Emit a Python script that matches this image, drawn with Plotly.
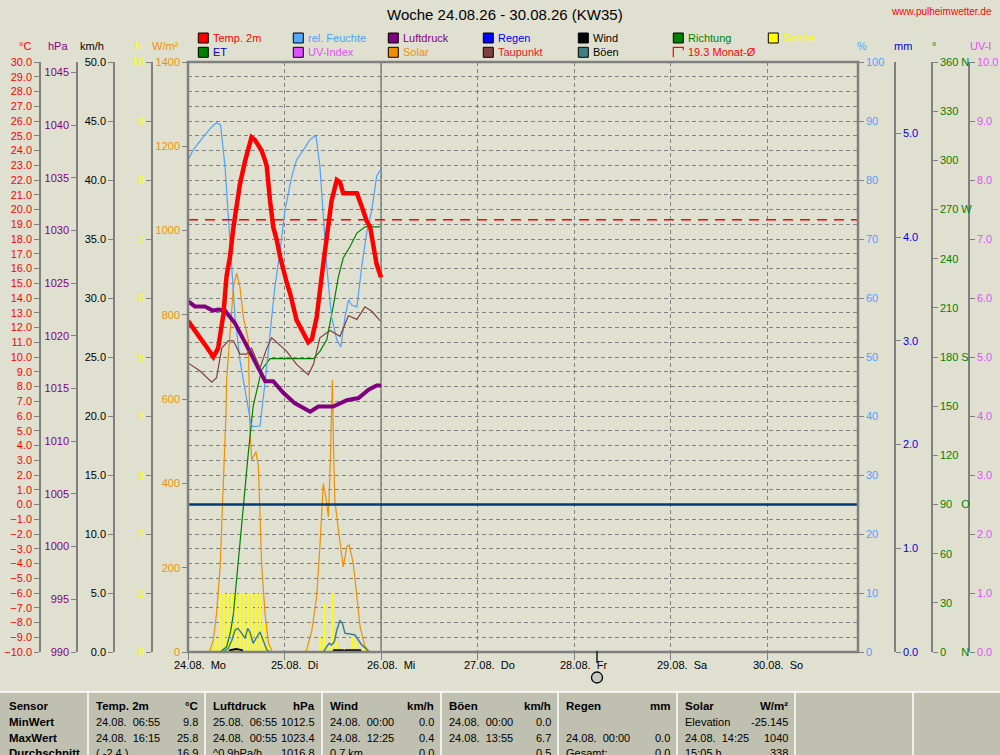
import plotly.graph_objects as go

W, H = 1000, 755
BG = "#e0e0d0"
GRAY = "#808080"
FONT = "Liberation Sans, Arial, sans-serif"

# time axis: hours since 24.08. 00:00
DAYS = ["24.08.", "25.08.", "26.08.", "27.08.", "28.08.", "29.08.", "30.08."]
WEEKDAYS = ["Mo", "Di", "Mi", "Do", "Fr", "Sa", "So"]
X_END = 166.6
DATA_END = 48.0
MONTH_AVG = 19.3
MOON_T = 101.7

temp_t = [0.0, 1.3, 3.0, 4.6, 6.3, 7.5, 8.8, 9.6, 10.45, 11.3, 12.1, 12.9, 14.2, 15.8, 16.7,
          17.9, 18.3, 19.2, 19.6, 20.4, 21.2, 22.1, 22.9, 24.6, 25.4, 27.0, 27.9, 29.1, 29.9,
          30.8, 32.0, 33.3, 34.5, 35.7, 37.0, 37.8, 38.6, 42.0, 43.2, 44.4, 45.3, 46.1, 46.9, 48.0]
temp_v = [12.45, 11.9, 11.3, 10.7, 10.0, 10.6, 12.9, 15.5, 16.8, 18.8, 20.4, 21.7, 23.3, 24.9, 24.7,
          24.1, 24.0, 23.3, 22.9, 20.6, 18.8, 17.9, 16.8, 15.0, 14.3, 12.5, 12.0, 11.3, 11.0,
          11.2, 12.7, 15.6, 17.9, 20.6, 22.0, 21.85, 21.1, 21.1, 20.2, 19.25, 18.8, 17.4, 16.3, 15.4]

dew_t = [0.0, 3.0, 5.9, 7.1, 8.4, 10.0, 11.3, 12.9, 14.6, 15.8, 17.9, 19.6, 20.8, 22.5, 24.5,
         27.0, 29.9, 31.2, 32.8, 35.3, 37.8, 39.9, 42.0, 44.0, 45.7, 47.8]
dew_v = [9.6, 9.05, 8.3, 8.6, 10.6, 11.1, 11.1, 10.2, 10.2, 10.6, 9.25, 10.6, 11.3, 10.9, 10.4,
         9.5, 8.8, 9.5, 11.3, 11.8, 11.4, 12.8, 12.55, 13.4, 13.1, 12.45]

hum_t = [0.0, 1.3, 3.8, 5.9, 7.1, 8.1, 9.2, 10.0, 10.9, 11.7, 12.9, 14.6, 15.6, 16.1, 17.9, 19.15,
         20.4, 21.6, 22.9, 24.1, 25.8, 27.0, 28.7, 30.3, 31.8, 32.8, 33.65, 34.5, 35.7, 37.0,
         38.0, 39.05, 39.9, 40.7, 42.0, 43.2, 44.4, 45.7, 46.9, 47.8]
hum_v = [83.4, 85.1, 87.3, 89.0, 89.7, 89.3, 82.3, 73.8, 65.3, 56.8, 49.5, 42.7, 38.8, 38.2, 38.3, 45.6,
         54.0, 61.9, 68.0, 74.9, 80.6, 83.4, 85.1, 86.8, 87.6, 82.3, 73.8, 65.3, 56.8, 52.9,
         51.7, 56.8, 59.7, 58.8, 58.5, 65.3, 71.0, 74.9, 80.6, 81.7]

pres_t = [0.0, 1.7, 4.2, 6.2, 7.5, 9.2, 11.7, 14.2, 16.7, 19.2, 21.2, 23.7, 26.6, 30.4, 32.4,
          36.1, 39.5, 42.4, 44.9, 46.9, 48.0]
pres_v = [1023.3, 1022.8, 1022.8, 1022.4, 1022.5, 1022.4, 1021.2, 1019.3, 1017.4, 1015.7, 1015.7,
          1014.6, 1013.6, 1012.8, 1013.3, 1013.3, 1013.9, 1014.1, 1014.9, 1015.3, 1015.3]

et_t = [0.0, 8.0, 9.6, 10.6, 11.3, 12.5, 13.75, 15.0, 16.2, 17.9, 18.3, 20.4, 31.2, 32.8, 34.5,
        36.1, 37.4, 38.6, 40.3, 42.0, 44.0, 47.8]
et_v = [0.0, 0.0, 0.05, 0.2, 0.37, 0.89, 1.40, 1.92, 2.37, 2.63, 2.72, 2.83, 2.83, 2.90, 3.01,
        3.33, 3.62, 3.80, 3.91, 4.04, 4.10, 4.10]

sol_t = [0.0, 5.2, 5.5, 6.3, 7.1, 8.0, 8.5, 9.0, 9.45, 9.6, 10.45, 11.3, 12.1, 12.9, 13.75, 14.6,
         15.0, 15.4, 15.85, 16.9, 17.5, 17.9, 18.3, 19.15, 20.0, 20.8, 21.0, 29.0, 29.5, 30.8,
         32.0, 32.8, 33.65, 34.25, 34.9, 35.3, 35.6, 35.9, 36.2, 36.5, 37.4, 38.6, 39.5, 40.1,
         41.1, 42.0, 42.8, 44.0, 44.8, 45.2, 48.0]
sol_v = [0, 0, 5, 28, 92, 202, 329, 448, 566, 645, 756, 867, 899, 867, 796, 756,
         740, 527, 456, 475, 440, 329, 210, 92, 21, 5, 0, 0, 5, 52,
         131, 250, 400, 368, 321, 420, 560, 645, 480, 360, 290, 202, 250, 254,
         210, 131, 60, 13, 5, 0, 0]

gust_t = [0.0, 8.7, 10.0, 10.9, 11.7, 12.4, 13.4, 14.2, 14.85, 15.4, 16.2, 17.1, 17.9, 18.7, 19.6,
          20.4, 33.65, 34.5, 35.1, 35.7, 36.4, 37.0, 37.8, 38.4, 39.05, 40.3, 41.5, 42.4, 43.2,
          44.2, 45.0, 48.0]
gust_v = [0, 0, 0.3, 1.0, 1.86, 2.0, 1.58, 1.16, 2.0, 1.7, 0.74, 1.3, 1.7, 1.0, 0.17,
          0, 0, 0.45, 0.74, 0.6, 0.87, 1.86, 2.65, 2.43, 1.58, 1.52, 1.44, 1.0, 0.6,
          0.3, 0, 0]

wind_t = [0.0, 10.2, 10.5, 11.5, 12.0, 12.8, 13.4, 13.7, 36.0, 36.3, 38.5, 38.8, 39.2, 42.8, 43.1, 48.0]
wind_v = [0, 0, 0.15, 0.2, 0.25, 0.2, 0.15, 0, 0, 0.15, 0.15, 0.05, 0.15, 0.15, 0, 0]

uv_t = [0.0, 48.0]
uv_v = [0, 0]

sun_t = [5.9, 6.9, 7.9, 8.9, 9.9, 10.9, 11.9, 12.9, 13.9, 14.9, 15.9, 16.9, 17.9, 18.9, 19.9,
         29.6, 32.8, 33.8, 34.8, 35.8, 36.8, 37.8, 40.8, 41.8, 43.8]
sun_v = [0.12, 0.24, 1, 1, 1, 1, 1, 1, 1, 1, 1, 1, 1, 0.49, 0.17,
         0.09, 0.26, 0.83, 0.09, 1.0, 0.17, 0.07, 0.26, 0.19, 0.1]

# statistics table
TABLE_HEAD = ["Sensor", "Temp. 2m", "Luftdruck", "Wind", "Böen", "Regen", "Solar"]
TABLE_UNIT = ["", "°C", "hPa", "km/h", "km/h", "mm", "W/m²"]
ROW_NAMES = ["MinWert", "MaxWert", "Durchschnitt"]
MIN_WHEN = ["24.08.  06:55", "25.08.  06:55", "24.08.  00:00", "24.08.  00:00", "", "Elevation"]
MIN_VAL = ["9.8", "1012.5", "0.0", "0.0", "", "-25.145"]
MAX_WHEN = ["24.08.  16:15", "24.08.  00:55", "24.08.  12:25", "24.08.  13:55", "24.08.  00:00", "24.08.  14:25"]
MAX_VAL = ["25.8", "1023.4", "0.4", "6.7", "0.0", "1040"]
AVG_WHEN = ["( -2.4 )", "^0.9hPa/h", "0.7 km", "", "Gesamt:", "15:05 h"]
AVG_VAL = ["16.9", "1016.8", "0.0", "0.5", "0.0", "338"]

LEGEND = [
    ("Temp. 2m", "#ff0000", "#ff0000"), ("rel. Feuchte", "#50a8ff", "#50a0ff"),
    ("Luftdruck", "#800080", "#800080"), ("Regen", "#0000ff", "#0000ff"),
    ("Wind", "#000000", "#000000"), ("Richtung", "#008000", "#008000"),
    ("Sonne", "#ffff00", "#ffff00"),
    ("ET", "#008000", "#0000c0"), ("UV-Index", "#e050ff", "#e050ff"),
    ("Solar", "#f09000", "#f09000"), ("Taupunkt", "#804040", "#e02020"),
    ("Böen", "#408080", "#000000"),
]

PLOT_L, PLOT_R, PLOT_T, PLOT_B = 188, 858, 62, 652


def px(x):
    return x / W


def py(y):
    return 1 - y / H


def yax(color, rng, dtick, x_px, side="left", fmt=None, **kw):
    d = dict(range=rng, dtick=dtick, tick0=rng[0], anchor="free", position=px(x_px), side=side,
             showline=True, linecolor=GRAY, linewidth=1.5, ticks="outside", ticklen=5,
             tickcolor=GRAY, tickfont=dict(color=color, size=11), showgrid=False,
             zeroline=False, fixedrange=True)
    if fmt:
        d["tickformat"] = fmt
    d.update(kw)
    return d


def text(x, y, s, color="black", size=11, anchor="left", bold=False):
    fig.add_annotation(x=px(x), y=py(y), xref="paper", yref="paper", showarrow=False,
                       text="<b>%s</b>" % s if bold else s, xanchor=anchor, yanchor="middle",
                       font=dict(color=color, size=size))


fig = go.Figure()

fig.add_trace(go.Bar(x=sun_t, y=sun_v, width=0.3, marker=dict(color="#ffff00", line_width=0),
                     yaxis="y"))
fig.add_trace(go.Scatter(x=sol_t, y=sol_v, mode="lines", line=dict(color="#f09000", width=1.2),
                         yaxis="y2"))
fig.add_trace(go.Scatter(x=gust_t, y=gust_v, mode="lines", line=dict(color="#408080", width=1.5),
                         yaxis="y3"))
fig.add_trace(go.Scatter(x=wind_t, y=wind_v, mode="lines", line=dict(color="#000000", width=2),
                         yaxis="y3"))
fig.add_trace(go.Scatter(x=et_t, y=et_v, mode="lines", line=dict(color="#008000", width=1.2),
                         yaxis="y4"))
fig.add_trace(go.Scatter(x=hum_t, y=hum_v, mode="lines", line=dict(color="#50a0ff", width=1.2),
                         yaxis="y5"))
# wind direction: calm all week, no values
fig.add_trace(go.Scatter(x=[None], y=[None], mode="lines", line=dict(color="#008000", width=1),
                         yaxis="y6"))
fig.add_trace(go.Scatter(x=uv_t, y=uv_v, mode="lines", line=dict(color="#e050ff", width=1),
                         yaxis="y7"))
fig.add_trace(go.Scatter(x=pres_t, y=pres_v, mode="lines", line=dict(color="#800080", width=4),
                         yaxis="y8"))
fig.add_trace(go.Scatter(x=dew_t, y=dew_v, mode="lines", line=dict(color="#804040", width=1.2),
                         yaxis="y9"))
fig.add_trace(go.Scatter(x=temp_t, y=temp_v, mode="lines", line=dict(color="#ff0000", width=4.5),
                         yaxis="y9"))

deg_vals = list(range(0, 361, 30))
deg_text = [str(v) for v in deg_vals]
deg_text[0] = "0\u00a0\u00a0\u00a0\u00a0\u00a0N"
deg_text[3] = "90\u00a0\u00a0\u00a0O"
deg_text[6] = "180 S"
deg_text[9] = "270 W"
deg_text[12] = "360 N"

fig.update_layout(
    width=W, height=H, margin=dict(l=0, r=0, t=0, b=0, autoexpand=False),
    paper_bgcolor=BG, plot_bgcolor=BG, showlegend=False, bargap=0,
    font=dict(family=FONT, size=11, color="black"),
    xaxis=dict(domain=[px(PLOT_L), px(PLOT_R)], range=[0, X_END], tickvals=[24 * i for i in range(7)],
               ticks="outside", ticklen=7, tickcolor=GRAY, showticklabels=False, showgrid=True,
               gridcolor=GRAY, griddash="4px,3px", gridwidth=1, zeroline=False, showline=False,
               fixedrange=True),
    yaxis=yax("#ffff00", [0, 10], 1, 152, domain=[py(PLOT_B), py(PLOT_T)]),
    yaxis2=yax("#f09000", [0, 1400], 200, PLOT_L, overlaying="y"),
    yaxis3=yax("#000000", [0, 50], 5, 114, fmt=".1f", overlaying="y"),
    yaxis4=yax("#0000e0", [0, 5.69], 1, 895, side="right", fmt=".1f", overlaying="y"),
    yaxis5=yax("#50a0ff", [0, 100], 10, PLOT_R, side="right", overlaying="y"),
    yaxis6=yax("#008000", [0, 360], 30, 932, side="right", overlaying="y",
               tickmode="array", tickvals=deg_vals, ticktext=deg_text),
    yaxis7=yax("#e050ff", [0, 10], 1, 969, side="right", fmt=".1f", overlaying="y"),
    yaxis8=yax("#800080", [990, 1046], 5, 77, overlaying="y"),
    yaxis9=yax("#ff0000", [-10, 30], 1, 40, fmt=".1f", overlaying="y", showgrid=True,
               gridcolor=GRAY, griddash="4px,3px", gridwidth=1),
)

# data end marker, 0 degC line, monthly mean, plot frame
fig.add_shape(type="line", xref="x", yref="y domain", x0=DATA_END, x1=DATA_END, y0=0, y1=1,
              line=dict(color=GRAY, width=1.5), layer="below")
fig.add_shape(type="line", xref="x domain", yref="y9", x0=0, x1=1, y0=0, y1=0,
              line=dict(color="#003c78", width=2.5), layer="above")
fig.add_shape(type="line", xref="x domain", yref="y9", x0=0, x1=1, y0=MONTH_AVG, y1=MONTH_AVG,
              line=dict(color="#ff0000", width=1.6, dash="10px,7px"), layer="above")
fig.add_shape(type="rect", xref="x domain", yref="y domain", x0=0, x1=1, y0=0, y1=1,
              line=dict(color=GRAY, width=2.5), layer="above")

# moon phase marker below the time axis
fig.add_shape(type="line", xref="x", yref="paper", x0=MOON_T, x1=MOON_T, y0=py(651), y1=py(663),
              line=dict(color="black", width=1.3))
fig.add_shape(type="circle", xref="x", yref="paper", xsizemode="pixel", xanchor=MOON_T,
              x0=-5.5, x1=5.5, y0=py(683), y1=py(672), fillcolor="#c8c8c8",
              line=dict(color="black", width=1.3))

# day labels
for i, (d, wd) in enumerate(zip(DAYS, WEEKDAYS)):
    fig.add_annotation(x=24 * i, y=py(665), xref="x", yref="paper", showarrow=False,
                       text=d + "\u00a0\u00a0" + wd, xanchor="left", yanchor="middle", xshift=-16,
                       font=dict(size=11, color="black"))

# titles
text(505, 15, "Woche 24.08.26 - 30.08.26 (KW35)", size=15, anchor="center")
text(994, 12, "www.pulheimwetter.de", color="#ff0000", size=10, anchor="right")

# axis units
for x, s, c in [(25, "°C", "#ff0000"), (58, "hPa", "#800080"), (92, "km/h", "#000000"),
                (138, "h", "#ffff00"), (165, "W/m²", "#f09000"), (862, "%", "#50a0ff"),
                (903, "mm", "#0000e0"), (934, "°", "#008000"), (980, "UV-I", "#e050ff")]:
    text(x, 46, s, color=c, anchor="center")

# legend
for i, (name, sq, tc) in enumerate(LEGEND):
    col, row = i % 7, i // 7
    sx = 198.3 + 95 * col
    sy = 38 + 14.3 * row
    fig.add_shape(type="rect", xref="paper", yref="paper", x0=px(sx), x1=px(sx + 10),
                  y0=py(sy + 5), y1=py(sy - 5), fillcolor=sq, line=dict(color="black", width=1))
    text(sx + 13, sy, name, color=tc)
mx, my = 673.3, 52.3
fig.add_shape(type="path", xref="paper", yref="paper",
              path="M %f %f L %f %f L %f %f L %f %f" % (px(mx), py(my + 5), px(mx), py(my - 5),
                                                       px(mx + 10), py(my - 5), px(mx + 10), py(my - 2)),
              line=dict(color="#ff0000", width=1.2))
text(mx + 13, my, "%.1f Monat-Ø" % MONTH_AVG, color="#ff0000")

# statistics table
COL_X = [0, 88, 205, 322, 441, 558, 677, 795, 913, 1000]
fig.add_shape(type="rect", xref="paper", yref="paper", x0=0, x1=1, y0=0, y1=py(692),
              fillcolor="#c0c0b0", line_width=0, layer="below")
fig.add_shape(type="line", xref="paper", yref="paper", x0=0, x1=1, y0=py(692), y1=py(692),
              line=dict(color="white", width=1.5))
for cx in COL_X[1:-1]:
    fig.add_shape(type="line", xref="paper", yref="paper", x0=px(cx), x1=px(cx), y0=0, y1=py(692),
                  line=dict(color="white", width=1.5))

ROW_Y = [705.7, 721.7, 737.7, 752.5]
text(7, ROW_Y[0], TABLE_HEAD[0], bold=True, size=11.5)
for r, name in enumerate(ROW_NAMES):
    text(7, ROW_Y[r + 1], name, bold=True, size=11.5)
for c in range(1, len(TABLE_HEAD)):
    lx, rx = COL_X[c] + 6, COL_X[c + 1] - 5
    text(lx, ROW_Y[0], TABLE_HEAD[c], bold=True, size=11.5)
    text(rx, ROW_Y[0], TABLE_UNIT[c], bold=True, size=11.5, anchor="right")
    for r, (wl, vl) in enumerate([(MIN_WHEN, MIN_VAL), (MAX_WHEN, MAX_VAL), (AVG_WHEN, AVG_VAL)]):
        if wl[c - 1]:
            text(lx, ROW_Y[r + 1], wl[c - 1].replace(" ", "\u00a0"), size=11)
        if vl[c - 1]:
            text(rx, ROW_Y[r + 1], vl[c - 1], size=11, anchor="right")

fig.write_html("out.html", config={"displayModeBar": False},
               post_script="document.body.style.margin='0';document.body.style.overflow='hidden';")
